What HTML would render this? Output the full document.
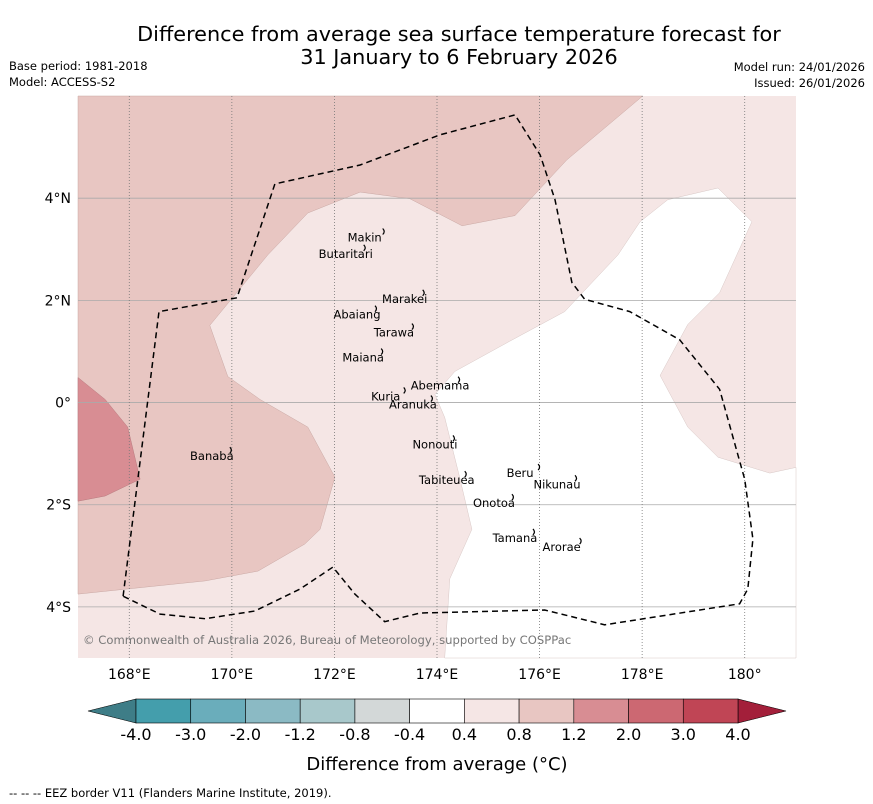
<!DOCTYPE html>
<html><head><meta charset="utf-8"><style>
body{margin:0;background:#fff;}
svg{display:block;font-family:"DejaVu Sans","Liberation Sans",sans-serif;}
</style></head><body>
<svg id="c" width="873" height="804" viewBox="0 0 873 804">
<text x="459" y="41" font-size="20.8" text-anchor="middle">Difference from average sea surface temperature forecast for</text>
<text x="459" y="64" font-size="20.8" text-anchor="middle">31 January to 6 February 2026</text>
<text x="9" y="70" font-size="11.5">Base period: 1981-2018</text>
<text x="9" y="86" font-size="11.5">Model: ACCESS-S2</text>
<text x="865" y="71" font-size="11.5" text-anchor="end">Model run: 24/01/2026</text>
<text x="865" y="87" font-size="11.5" text-anchor="end">Issued: 26/01/2026</text>
<g id="map"></g>
<g id="cbar"></g>
<text x="437" y="770" font-size="18" text-anchor="middle">Difference from average (°C)</text>
<text x="9" y="797" font-size="11.5">--  --  -- EEZ border V11 (Flanders Marine Institute, 2019).</text>
</svg>
<script>
const lonTicks=[168,170,172,174,176,178,180];
const lonTickLabels=["168°E","170°E","172°E","174°E","176°E","178°E","180°"];
const latTicks=[4,2,0,-2,-4];
const latTickLabels=["4°N","2°N","0°","2°S","4°S"];
const band08=[[167,6],[178.01,6],[176.53,4.75],[175.52,3.66],[174.49,3.46],[173.47,3.99],[172.5,4.12],[171.48,3.71],[170.7,2.89],[169.57,1.51],[169.92,0.51],[170.55,0.06],[171.48,-0.48],[172.01,-1.46],[171.72,-2.48],[171.42,-2.77],[170.51,-3.3],[169.48,-3.49],[167,-3.75]];
const band12=[[167,0.49],[167.53,0.06],[167.97,-0.48],[168.21,-1.5],[167.53,-1.83],[167,-1.93]];
const bandWhite=[[174.15,-5],[174.25,-3.45],[174.68,-2.48],[174.45,-1.5],[174.15,-0.29],[173.96,0.16],[174.35,0.61],[175.42,1.2],[176.49,1.78],[177.53,2.89],[177.96,3.54],[178.5,3.97],[179.48,4.2],[180.14,3.54],[179.51,2.15],[178.89,1.53],[178.35,0.53],[178.89,-0.48],[179.48,-1.07],[180.49,-1.38],[181,-1.27],[181,-5]];
const eez=[[167.88,-3.79],[168.58,1.78],[170.1,2.05],[170.84,4.28],[172.5,4.65],[174.06,5.24],[175.52,5.63],[176.01,4.85],[176.3,3.97],[176.63,2.35],[176.88,2.02],[177.76,1.78],[178.73,1.23],[179.51,0.26],[180,-1.5],[180.16,-2.67],[180.06,-3.65],[179.9,-3.94],[177.27,-4.35],[176.1,-4.06],[173.67,-4.12],[172.98,-4.29],[172.4,-3.75],[171.97,-3.22],[171.33,-3.65],[170.45,-4.08],[169.48,-4.23],[168.6,-4.14],[167.88,-3.79]];
const islandNames=["Makin","Butaritari","Marakei","Abaiang","Tarawa","Maiana","Abemama","Kuria","Aranuka","Nonouti","Banaba","Beru","Nikunau","Tabiteuea","Onotoa","Tamana","Arorae"];
const islandLon=[172.59,172.22,173.37,172.44,173.16,172.56,174.06,173.0,173.53,173.96,169.61,175.62,176.34,174.19,175.11,175.52,176.43];
const islandLat=[3.25,2.93,2.05,1.74,1.39,0.90,0.35,0.14,-0.02,-0.80,-1.03,-1.36,-1.58,-1.50,-1.95,-2.63,-2.81];
const cbBounds=["-4.0","-3.0","-2.0","-1.2","-0.8","-0.4","0.4","0.8","1.2","2.0","3.0","4.0"];
const cbColors=["#449eac","#6aadbb","#8bbac4","#a8c8cb","#d3d8d8","#ffffff","#f5e6e5","#e8c6c2","#d88d93","#cc6872","#c04555"];

const NS="http://www.w3.org/2000/svg";
const X0=78,X1=796,Y0=96,Y1=658,LON0=167,LON1=181,LAT0=-5,LAT1=6;
const xs=l=>X0+(l-LON0)/(LON1-LON0)*(X1-X0);
const ys=l=>Y0+(LAT1-l)/(LAT1-LAT0)*(Y1-Y0);
function mk(t,a,p){const e=document.createElementNS(NS,t);for(const k in a)e.setAttribute(k,a[k]);p.appendChild(e);return e;}
const map=document.getElementById('map');
const pts=a=>a.map(p=>xs(p[0]).toFixed(1)+','+ys(p[1]).toFixed(1)).join(' ');
let r=mk('rect',{x:X0,y:Y0,width:X1-X0,height:Y1-Y0,fill:'#f5e6e5'},map);


let p=mk('polygon',{points:pts(band08),fill:'#e8c6c2',stroke:'#c9a8a4','stroke-width':0.5},map);


p=mk('polygon',{points:pts(band12),fill:'#d88d93',stroke:'#b87a7f','stroke-width':0.5},map);


p=mk('polygon',{points:pts(bandWhite),fill:'#ffffff',stroke:'#d8c8c6','stroke-width':0.5},map);


latTicks.forEach((v,i)=>{
 const y=ys(v);
 let l=mk('line',{x1:X0,x2:X1,y1:y,y2:y,stroke:'#aaa','stroke-width':0.8},map);
 
 
 let t=mk('text',{x:71,y:y+5,'font-size':14,'text-anchor':'end'},map);t.textContent=latTickLabels[i];
 
 
});
lonTicks.forEach((v,i)=>{
 const x=xs(v);
 let l=mk('line',{x1:x,x2:x,y1:Y0,y2:Y1,stroke:'#777','stroke-width':0.8,'stroke-dasharray':'1,2'},map);
 
 
 let t=mk('text',{x:x,y:679,'font-size':14,'text-anchor':'middle'},map);t.textContent=lonTickLabels[i];
 
 
});
let e=mk('polyline',{points:pts(eez),fill:'none',stroke:'#000','stroke-width':1.5,'stroke-dasharray':'6,4'},map);


islandNames.forEach((n,i)=>{
 const x=xs(islandLon[i]),y=ys(islandLat[i]);
 let s=mk('path',{d:`M${x+18},${y-8} q3,3 0,6`,fill:'none',stroke:'#000','stroke-width':1.2},map);
 
 
 let t=mk('text',{x:x,y:y+5,'font-size':11.5,'text-anchor':'middle'},map);t.textContent=n;
 
 
});
let c=mk('text',{x:83,y:644,'font-size':11.6,fill:'#777'},map);
c.textContent='© Commonwealth of Australia 2026, Bureau of Meteorology, supported by COSPPac';


const cb=document.getElementById('cbar');
const CX0=136,CX1=738,CY=699,CH=24,W=(CX1-CX0)/cbColors.length;
let lt=mk('polygon',{points:`${CX0},${CY} ${CX0},${CY+CH} 88,${CY+CH/2}`,fill:'#3e7d87',stroke:'#000','stroke-width':0.6},cb);


let rt=mk('polygon',{points:`${CX1},${CY} ${CX1},${CY+CH} 786,${CY+CH/2}`,fill:'#a31f3a',stroke:'#000','stroke-width':0.6},cb);


cbColors.forEach((col,i)=>{
 let s=mk('rect',{x:CX0+i*W,y:CY,width:W,height:CH,fill:col,stroke:'#000','stroke-width':0.6},cb);
 
 
});
cbBounds.forEach((b,i)=>{
 let t=mk('text',{x:CX0+i*W,y:740,'font-size':16,'text-anchor':'middle'},cb);t.textContent=b;
 
 
});
</script>
</body></html>
